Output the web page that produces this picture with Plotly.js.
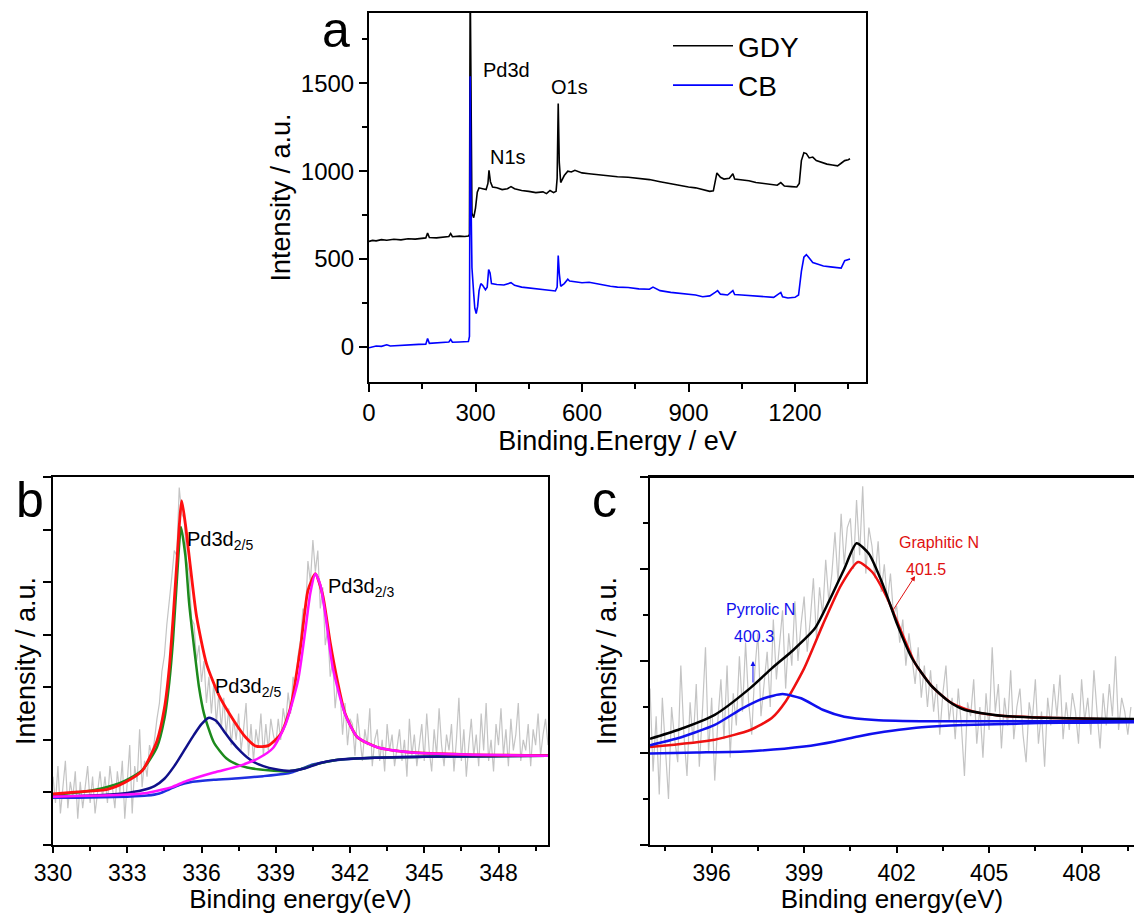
<!DOCTYPE html>
<html>
<head>
<meta charset="utf-8">
<script src="https://cdn.plot.ly/plotly-3.0.1.min.js"></script>
<style>html,body{margin:0;padding:0;background:#fff;}#chart{width:1134px;height:914px;}</style>
</head>
<body>
<div id="chart"></div>
<script>
// ---------- Panel a: survey spectra ----------
const gdyX = [0,10,20,35,50,70,90,110,130,150,160,165,170,190,210,225,230,235,255,270,280,283,285,287,290,295,300,305,310,320,330,335,338,342,348,360,375,390,400,410,430,450,470,490,500,510,520,527,530,533,536,540,550,560,570,580,600,620,650,680,700,730,760,790,820,850,870,900,920,940,960,970,975,980,990,1000,1015,1025,1030,1050,1070,1090,1110,1130,1150,1160,1170,1190,1205,1212,1218,1225,1232,1240,1250,1260,1275,1290,1305,1320,1330,1340,1350,1355];
const gdyY = [600,606,603,610,607,612,609,615,613,618,620,648,622,620,625,628,645,627,630,628,631,640,2100,1300,760,735,790,880,905,900,895,930,1005,940,910,905,895,900,912,900,890,885,878,882,872,890,878,885,960,1385,1050,935,975,1000,995,1005,990,985,978,972,968,965,958,952,940,928,918,910,905,895,885,888,950,990,965,955,960,985,955,950,945,935,930,925,920,935,915,912,910,930,1060,1105,1100,1075,1080,1060,1050,1040,1035,1030,1045,1060,1065,1070];
const cbX = [0,10,20,35,50,60,80,100,120,140,160,165,170,190,210,225,230,235,255,270,280,283,285,287,290,295,298,302,306,310,315,320,328,333,337,341,345,360,380,400,410,430,450,470,490,510,525,530,533,536,540,550,560,565,580,600,620,650,680,700,730,760,790,800,820,850,870,900,920,940,960,975,982,990,1010,1025,1030,1050,1080,1100,1120,1140,1160,1165,1180,1200,1210,1218,1225,1232,1240,1250,1265,1280,1300,1315,1330,1340,1350,1355];
const cbY = [-5,0,5,3,12,5,8,10,12,14,15,48,20,22,25,28,42,26,28,30,30,60,1540,900,450,300,220,190,230,320,360,350,325,340,440,420,360,355,352,365,350,340,335,330,325,320,318,340,520,420,345,360,385,375,370,365,368,355,345,340,338,330,328,340,320,310,305,300,295,285,290,310,320,300,295,320,298,295,292,288,285,282,310,285,278,282,295,430,510,525,505,480,470,460,455,450,448,490,495,500];

// ---------- Panel b: Pd3d ----------
const bRawY = [
 0.3,-0.2,0.5,-0.4,0.1,0.6,-0.3,0.2,-0.1,0.4,-0.5,
 0.2,-0.3,0.1,0.5,-0.2,0.3,-0.4,0.0,0.4,-0.1,
 0.3,-0.2,0.5,0.1,-0.3,0.4,0.0,0.6,-0.5,0.2,
 0.9,-0.4,0.5,0.2,1.2,0.1,0.6,0.3,0.9,0.7,
 1.0,1.4,1.7,2.3,2.6,3.2,3.6,4.1,4.6,4.5,
 5.8,5.3,5.2,4.4,4.2,3.3,3.2,2.5,2.8,2.1,
 2.5,1.7,2.2,1.5,2.1,1.3,1.9,1.2,1.8,1.1,
 1.6,0.9,1.4,1.0,1.5,0.8,1.2,1.7,0.7,1.3,
 0.6,1.2,0.9,1.5,0.7,1.3,0.8,1.4,1.1,0.9,
 1.4,1.0,1.6,1.3,1.9,1.5,2.2,2.0,2.6,2.9,
 3.5,3.4,4.4,4.0,4.8,4.2,4.6,3.5,3.9,2.8,
 3.1,2.2,2.5,1.6,2.1,1.9,1.1,1.7,0.9,1.4,
 1.3,0.7,1.5,1.1,0.6,1.2,0.9,1.6,0.5,1.0,
 1.2,0.6,1.0,0.4,1.3,0.8,1.1,0.5,0.9,1.2,
 0.6,1.0,0.3,1.4,0.7,1.1,0.5,0.9,1.3,0.6,
 1.5,0.8,0.4,1.2,0.7,1.6,0.9,0.5,1.1,0.8,
 1.3,0.4,1.0,1.8,0.6,1.2,0.3,0.9,1.4,0.7,
 1.1,0.5,1.5,0.8,1.7,0.6,1.0,0.4,1.3,0.9,
 1.6,0.7,1.2,0.5,1.4,0.8,1.1,1.7,0.6,1.0,
 0.8,1.3,0.5,1.2,0.9,1.5,0.7,1.1,1.4,0.9];
const bBgX = [330,331,332,333,333.8,334.3,334.7,335.1,335.5,336.5,337.5,338.5,339.3,339.7,340.1,340.5,341,341.8,343,345,347.5,350];
const bBgY = [-0.1,-0.1,-0.09,-0.08,-0.06,-0.02,0.06,0.14,0.19,0.24,0.27,0.31,0.35,0.39,0.46,0.53,0.58,0.63,0.66,0.68,0.69,0.70];
const bNavyX = [330,331,332,333,333.6,334.1,334.5,334.9,335.3,335.7,336.0,336.3,336.6,336.9,337.2,337.6,338.0,338.5,339.0,339.6,340.2,340.8,341.5,343,345,347.5,350];
const bNavyY = [-0.08,-0.07,-0.05,-0.01,0.04,0.12,0.26,0.5,0.8,1.1,1.3,1.42,1.36,1.17,0.98,0.77,0.61,0.5,0.44,0.41,0.46,0.56,0.62,0.66,0.68,0.69,0.70];
const bGreenX = [330,331,332,332.9,333.6,334.2,334.5,334.7,334.85,335.0,335.17,335.35,335.5,335.7,335.9,336.1,336.5,337.0,337.5,338.0,338.7,339.4,340.0,340.6,341.5,343,345,347.5,350];
const bGreenY = [-0.04,0.0,0.08,0.22,0.42,0.86,1.4,2.1,2.9,4.0,5.05,4.5,3.6,2.76,2.0,1.5,0.95,0.65,0.52,0.46,0.42,0.40,0.44,0.53,0.62,0.66,0.68,0.69,0.70];
const bRedX = [330,331,332.2,332.9,333.6,334.2,334.5,334.7,334.85,335.0,335.2,335.35,335.5,335.8,336.2,336.7,337.3,337.8,338.2,338.7,339.2,339.6,340.0,340.3,340.6,340.9,341.2,341.5,341.8,342.3,343.1,344.5,346.7,350];
const bRedY = [-0.03,0.01,0.06,0.19,0.41,0.98,1.6,2.38,3.3,4.35,5.55,5.1,4.5,3.35,2.45,1.85,1.37,1.04,0.88,0.89,1.11,1.62,2.76,3.84,4.16,3.75,2.85,2.1,1.5,1.05,0.86,0.76,0.72,0.70];
const bMagX = [330,331,332,333,333.8,334.3,334.8,335.4,336.5,337.5,338.3,338.9,339.4,339.9,340.2,340.4,340.6,340.8,341.0,341.3,341.8,342.3,343.1,344.5,346.7,350];
const bMagY = [-0.08,-0.07,-0.06,-0.04,-0.01,0.04,0.1,0.22,0.38,0.5,0.65,0.85,1.3,2.13,3.1,3.8,4.16,3.95,3.4,2.38,1.49,1.05,0.86,0.76,0.72,0.70];

// ---------- Panel c: N1s ----------
const cRawY = [
 1.4,-0.4,0.8,-0.9,1.2,0.1,-1.0,1.0,0.3,-0.2,
 1.9,0.4,-0.5,1.1,0.2,1.5,-0.3,0.9,2.3,0.0,
 1.2,-0.6,0.7,1.6,0.3,1.9,-0.1,1.3,0.6,2.1,
 0.9,2.4,1.1,0.4,1.8,2.6,0.8,1.5,2.2,1.0,
 2.9,1.6,2.3,3.1,1.4,2.6,1.9,3.3,2.0,2.8,
 3.4,2.2,2.9,3.8,2.5,3.6,3.0,4.2,3.3,3.9,
 4.8,3.7,5.2,4.1,4.9,5.1,4.0,5.5,4.3,5.8,
 3.9,4.9,4.5,3.8,4.6,3.5,4.1,3.3,3.9,3.0,
 3.2,2.4,2.9,1.9,2.6,2.1,1.5,2.3,1.2,1.9,
 1.0,1.8,0.9,1.5,0.4,1.3,1.9,0.7,1.2,0.3,
 1.4,0.6,-0.5,1.1,0.8,1.6,0.2,1.0,-0.1,1.3,
 0.5,2.3,0.9,1.5,0.1,1.2,0.6,1.8,0.3,1.0,
 1.4,0.4,-0.2,1.1,0.7,1.6,0.2,0.9,-0.3,1.2,
 0.6,1.5,0.8,1.7,0.3,1.1,0.5,1.3,0.9,0.2,
 1.6,0.7,1.2,0.4,1.8,0.9,0.1,1.3,0.6,1.5,
 0.8,2.1,0.5,1.2,0.9,0.4,1.0];
const cEnvX = [394,394.9,396.1,397.25,397.95,398.65,399.35,399.8,400.3,400.7,401.1,401.56,402.03,402.5,403.1,403.7,404.2,405.4,407.2,409.7];
const cEnvY = [0.31,0.5,0.83,1.41,1.84,2.24,2.71,3.29,4.0,4.56,4.33,3.65,2.78,2.06,1.48,1.12,0.94,0.81,0.76,0.74];
const cGraphX = [394,396.1,397.25,397.95,398.4,399.0,399.6,400.2,400.75,401.2,401.7,402.15,402.6,403.2,403.8,404.5,405.4,407.2,409.7];
const cGraphY = [0.13,0.29,0.5,0.76,1.12,1.84,2.78,3.65,4.15,3.94,3.36,2.64,1.95,1.41,1.08,0.90,0.81,0.76,0.72];
const cPyrX = [394,394.9,396.1,397.0,397.7,398.3,398.9,399.6,400.3,401.3,403.1,405.4,409.7];
const cPyrY = [0.17,0.32,0.61,0.97,1.19,1.28,1.19,0.94,0.79,0.72,0.69,0.69,0.69];
const cBgX = [394,395.5,397.25,399.0,400.0,400.75,401.6,402.5,403.3,404.2,405.5,406.6,408,409.7];
const cBgY = [-0.01,0.01,0.04,0.14,0.25,0.36,0.46,0.54,0.58,0.61,0.63,0.65,0.66,0.67];

const FONT = 'Liberation Sans, Arial, sans-serif';
const sm = {shape:'spline', smoothing:0.6};

const traces = [
  {x:gdyX, y:gdyY, type:'scatter', mode:'lines', name:'GDY', line:{color:'#000000', width:1.6}, xaxis:'x', yaxis:'y'},
  {x:cbX, y:cbY, type:'scatter', mode:'lines', name:'CB', line:{color:'#0000ff', width:1.6}, xaxis:'x', yaxis:'y'},

  {y:bRawY, x0:330, dx:0.1, type:'scatter', mode:'lines', line:{color:'#c4c4c4', width:1.2}, showlegend:false, xaxis:'x2', yaxis:'y2'},
  {x:bBgX, y:bBgY, type:'scatter', mode:'lines', line:Object.assign({color:'#1f2fe0', width:2.5}, sm), showlegend:false, xaxis:'x2', yaxis:'y2'},
  {x:bGreenX, y:bGreenY, type:'scatter', mode:'lines', line:Object.assign({color:'#1c8a1c', width:2.5}, sm), showlegend:false, xaxis:'x2', yaxis:'y2'},
  {x:bNavyX, y:bNavyY, type:'scatter', mode:'lines', line:Object.assign({color:'#10108a', width:2.5}, sm), showlegend:false, xaxis:'x2', yaxis:'y2'},
  {x:bRedX, y:bRedY, type:'scatter', mode:'lines', line:Object.assign({color:'#ff1010', width:2.8}, sm), showlegend:false, xaxis:'x2', yaxis:'y2'},
  {x:bMagX, y:bMagY, type:'scatter', mode:'lines', line:Object.assign({color:'#ff10ff', width:2.5}, sm), showlegend:false, xaxis:'x2', yaxis:'y2'},

  {y:cRawY, x0:394, dx:0.1, type:'scatter', mode:'lines', line:{color:'#c4c4c4', width:1.2}, showlegend:false, xaxis:'x3', yaxis:'y3'},
  {x:cBgX, y:cBgY, type:'scatter', mode:'lines', line:Object.assign({color:'#1010ee', width:2.5}, sm), showlegend:false, xaxis:'x3', yaxis:'y3'},
  {x:cGraphX, y:cGraphY, type:'scatter', mode:'lines', line:Object.assign({color:'#ee1010', width:2.5}, sm), showlegend:false, xaxis:'x3', yaxis:'y3'},
  {x:cEnvX, y:cEnvY, type:'scatter', mode:'lines', line:Object.assign({color:'#000000', width:2.5}, sm), showlegend:false, xaxis:'x3', yaxis:'y3'},
  {x:cPyrX, y:cPyrY, type:'scatter', mode:'lines', line:Object.assign({color:'#1010ee', width:2.5}, sm), showlegend:false, xaxis:'x3', yaxis:'y3'}
];

function ax(extra){
  return Object.assign({showline:true, linecolor:'#000', linewidth:2, mirror:true, ticks:'outside', ticklen:8, tickwidth:2,
    tickcolor:'#000', showgrid:false, zeroline:false, tickfont:{family:FONT, size:24, color:'#000'}}, extra);
}
const px = v => v/1134, py = v => 1 - v/914;

const layout = {
  width:1134, height:914, margin:{l:0, r:0, t:0, b:0}, paper_bgcolor:'#fff', plot_bgcolor:'#fff',
  font:{family:FONT, color:'#000'},
  showlegend:true,
  legend:{x:px(668), y:py(21), xanchor:'left', yanchor:'top', bgcolor:'rgba(0,0,0,0)', font:{family:FONT, size:28, color:'#000'}, tracegroupgap:0, itemwidth:60},
  xaxis: ax({domain:[px(369), px(866)], range:[0,1400], tick0:0, dtick:300, anchor:'y',
    minor:{dtick:150, ticks:'outside', ticklen:5, tickwidth:2, tickcolor:'#000'},
    title:{text:'Binding.Energy / eV', font:{family:FONT, size:27, color:'#000'}, standoff:4}}),
  yaxis: ax({domain:[py(382), py(13)], range:[-200,1900], tick0:0, dtick:500, anchor:'x',
    minor:{dtick:250, ticks:'outside', ticklen:5, tickwidth:2, tickcolor:'#000'},
    title:{text:'Intensity / a.u.', font:{family:FONT, size:27, color:'#000'}, standoff:2}}),
  xaxis2: ax({domain:[px(53), px(548)], range:[330,350], tick0:330, dtick:3, anchor:'y2', ticklen:6, tickfont:{family:FONT, size:23, color:'#000'},
    minor:{dtick:1.5, ticks:'outside', ticklen:4, tickwidth:2, tickcolor:'#000'},
    title:{text:'Binding energy(eV)', font:{family:FONT, size:26, color:'#000'}, standoff:3}}),
  yaxis2: ax({domain:[py(845), py(477)], range:[-1,6], tick0:0, dtick:1, anchor:'x2', showticklabels:false,
    title:{text:'Intensity / a.u.', font:{family:FONT, size:27, color:'#000'}, standoff:0}}),
  xaxis3: ax({domain:[px(650), 1], range:[394,409.7], tick0:396, dtick:3, anchor:'y3', ticklen:6, tickfont:{family:FONT, size:23, color:'#000'},
    minor:{dtick:1.5, ticks:'outside', ticklen:4, tickwidth:2, tickcolor:'#000'},
    title:{text:'Binding energy(eV)', font:{family:FONT, size:26, color:'#000'}, standoff:3}}),
  yaxis3: ax({domain:[py(845), py(477)], range:[-2,6], tick0:0, dtick:2, anchor:'x3', showticklabels:false, mirror:false,
    minor:{dtick:1, ticks:'outside', ticklen:5, tickwidth:2, tickcolor:'#000'},
    title:{text:'Intensity / a.u.', font:{family:FONT, size:27, color:'#000'}, standoff:16}}),
  shapes:[
    {type:'line', xref:'paper', yref:'paper', x0:px(650), x1:1, y0:py(477), y1:py(477), line:{color:'#000', width:2}}
  ],
  annotations:[
    {text:'a', xref:'paper', yref:'paper', x:px(320), y:1, yanchor:'top', showarrow:false, font:{family:FONT, size:50, color:'#000'}},
    {text:'b', xref:'paper', yref:'paper', x:px(14), y:py(500), showarrow:false, font:{family:FONT, size:50, color:'#000'}},
    {text:'c', xref:'paper', yref:'paper', x:px(604), y:py(500), showarrow:false, font:{family:FONT, size:50, color:'#000'}},

    {text:'Pd3d', xref:'x', yref:'y', x:387, y:1577, showarrow:false, font:{family:FONT, size:20, color:'#000'}},
    {text:'N1s', xref:'x', yref:'y', x:392, y:1082, showarrow:false, font:{family:FONT, size:20, color:'#000'}},
    {text:'O1s', xref:'x', yref:'y', x:566, y:1478, showarrow:false, font:{family:FONT, size:20, color:'#000'}},

    {text:'Pd3d<sub>2/5</sub>', xref:'x2', yref:'y2', x:335.35, y:4.8, xanchor:'left', showarrow:false, font:{family:FONT, size:20, color:'#000'}},
    {text:'Pd3d<sub>2/5</sub>', xref:'x2', yref:'y2', x:336.45, y:2.0, xanchor:'left', showarrow:false, font:{family:FONT, size:20, color:'#000'}},
    {text:'Pd3d<sub>2/3</sub>', xref:'x2', yref:'y2', x:341.05, y:3.9, xanchor:'left', showarrow:false, font:{family:FONT, size:20, color:'#000'}},

    {text:'Graphitic N', xref:'x3', yref:'y3', x:403.37, y:4.58, showarrow:false, font:{family:FONT, size:16, color:'#e01010'}},
    {text:'401.5', xref:'x3', yref:'y3', x:402.96, y:3.99, showarrow:false, font:{family:FONT, size:16, color:'#e01010'}},
    {text:'', xref:'x3', yref:'y3', x:402.6, y:3.85, axref:'x3', ayref:'y3', ax:401.85, ay:3.07, showarrow:true, arrowhead:2, arrowsize:1, arrowwidth:1, arrowcolor:'#e01010'},
    {text:'Pyrrolic N', xref:'x3', yref:'y3', x:397.57, y:3.12, showarrow:false, font:{family:FONT, size:16, color:'#1010ee'}},
    {text:'400.3', xref:'x3', yref:'y3', x:397.36, y:2.53, showarrow:false, font:{family:FONT, size:16, color:'#1010ee'}},
    {text:'', xref:'x3', yref:'y3', x:397.34, y:2.0, axref:'x3', ayref:'y3', ax:397.34, ay:1.5, showarrow:true, arrowhead:2, arrowsize:1, arrowwidth:1, arrowcolor:'#1010ee'}
  ]
};

Plotly.newPlot('chart', traces, layout, {staticPlot:true, displayModeBar:false});
</script>
</body>
</html>
